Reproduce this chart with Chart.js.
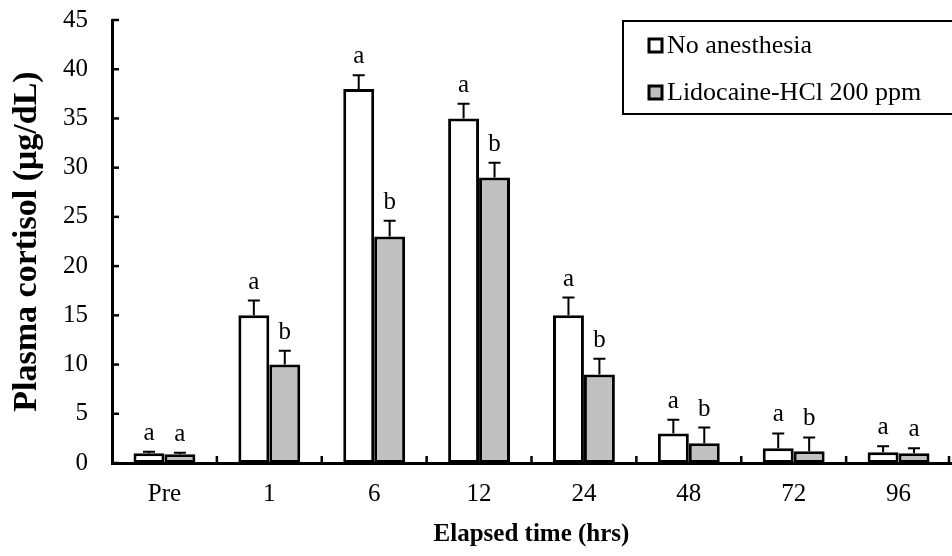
<!DOCTYPE html>
<html><head><meta charset="utf-8">
<script src="https://cdn.jsdelivr.net/npm/chart.js@4.4.1/dist/chart.umd.min.js"></script>
<style>html,body{margin:0;padding:0;background:#fff}</style>
</head><body>
<canvas id="c" width="952" height="556" style="display:block;width:952px;height:556px"></canvas>
<script>
const categories = ['Pre', '1', '6', '12', '24', '48', '72', '96'];
const seriesNames = ['No anesthesia', 'Lidocaine-HCl 200 ppm'];
const noAnesthesia = [1.0, 15, 38, 35, 15, 3.0, 1.5, 1.1];
const lidocaine = [0.9, 10, 23, 29, 9, 2.0, 1.2, 1.0];
const noAnesthesiaErr = [0.15, 1.5, 1.4, 1.5, 1.8, 1.4, 1.5, 0.6];
const lidocaineErr = [0.15, 1.4, 1.6, 1.5, 1.6, 1.6, 1.4, 0.5];
const noAnesthesiaLetters = ['a', 'a', 'a', 'a', 'a', 'a', 'a', 'a'];
const lidocaineLetters = ['a', 'b', 'b', 'b', 'b', 'b', 'b', 'a'];
const yTickValues = [0, 5, 10, 15, 20, 25, 30, 35, 40, 45];

const SERIF = '"Liberation Serif", "Times New Roman", serif';
const fills = ['#ffffff', '#c0c0c0'];
const errs = [noAnesthesiaErr, lidocaineErr];
const letters = [noAnesthesiaLetters, lidocaineLetters];

const decorPlugin = {
  id: 'decor',
  afterDatasetsDraw(chart) {
    const ctx = chart.ctx;
    const y = chart.scales.y;
    const area = chart.chartArea;
    ctx.save();
    chart.data.datasets.forEach((ds, di) => {
      const meta = chart.getDatasetMeta(di);
      meta.data.forEach((el, i) => {
        const v = ds.data[i];
        const top = y.getPixelForValue(v + errs[di][i]);
        ctx.strokeStyle = '#000';
        ctx.lineWidth = 2;
        ctx.beginPath();
        ctx.moveTo(el.x, el.y);
        ctx.lineTo(el.x, top);
        ctx.moveTo(el.x - 6, top);
        ctx.lineTo(el.x + 6, top);
        ctx.stroke();
        ctx.fillStyle = '#000';
        ctx.font = '25px ' + SERIF;
        ctx.textAlign = 'center';
        ctx.textBaseline = 'alphabetic';
        ctx.fillText(letters[di][i], el.x, top - 12);
      });
    });
    ctx.strokeStyle = '#000';
    ctx.lineWidth = 2.5;
    yTickValues.forEach(v => {
      const py = y.getPixelForValue(v);
      ctx.beginPath();
      ctx.moveTo(area.left, py);
      ctx.lineTo(area.left + 7, py);
      ctx.stroke();
    });
    const n = categories.length;
    const cw = (area.right - area.left) / n;
    for (let k = 1; k <= n; k++) {
      const px = area.left + k * cw - (k === n ? 2 : 0);
      ctx.beginPath();
      ctx.moveTo(px, area.bottom);
      ctx.lineTo(px, area.bottom - 7);
      ctx.stroke();
    }
    ctx.lineWidth = 2;
    ctx.strokeRect(623, 21, 340, 93);
    const rows = [46, 93];
    seriesNames.forEach((name, i) => {
      ctx.fillStyle = fills[i];
      ctx.fillRect(649, rows[i] - 7, 13, 13);
      ctx.lineWidth = 3;
      ctx.strokeRect(649, rows[i] - 7, 13, 13);
      ctx.fillStyle = '#000';
      ctx.font = '26px ' + SERIF;
      ctx.textAlign = 'left';
      ctx.textBaseline = 'alphabetic';
      ctx.fillText(name, 667, rows[i] + 7);
    });
    ctx.restore();
  }
};

new Chart(document.getElementById('c'), {
  type: 'bar',
  data: {
    labels: categories,
    datasets: [
      { label: seriesNames[0], data: noAnesthesia, backgroundColor: fills[0], borderColor: '#000', borderWidth: 3, borderSkipped: false },
      { label: seriesNames[1], data: lidocaine, backgroundColor: fills[1], borderColor: '#000', borderWidth: 3, borderSkipped: false }
    ]
  },
  options: {
    responsive: false,
    animation: false,
    devicePixelRatio: 1,
    layout: { padding: { top: 20, right: 1, left: 0, bottom: 0 } },
    plugins: { legend: { display: false }, tooltip: { enabled: false } },
    datasets: { bar: { categoryPercentage: 0.59, barPercentage: 1.0 } },
    scales: {
      x: {
        grid: { display: false, drawTicks: true, tickLength: 16 },
        border: { display: true, color: '#000', width: 3 },
        ticks: { color: '#000', font: { family: SERIF, size: 25 }, padding: 0, maxRotation: 0 },
        title: { display: true, text: 'Elapsed time (hrs)', color: '#000', font: { family: SERIF, size: 25, weight: 'bold', lineHeight: 1.2 }, padding: { top: 0, bottom: 6 } },
        afterFit(s) { s.height = 93; }
      },
      y: {
        min: 0, max: 45,
        grid: { display: false, drawTicks: true, tickLength: 24 },
        border: { display: true, color: '#000', width: 3 },
        ticks: { stepSize: 5, color: '#000', font: { family: SERIF, size: 25 }, padding: 0 },
        title: { display: true, text: 'Plasma cortisol (μg/dL)', color: '#000', font: { family: SERIF, size: 34, weight: 'bold', lineHeight: 1.2 }, padding: { top: 7, bottom: 0 } },
        afterFit(s) { s.width = 112; }
      }
    }
  },
  plugins: [decorPlugin]
});
</script>
</body></html>
